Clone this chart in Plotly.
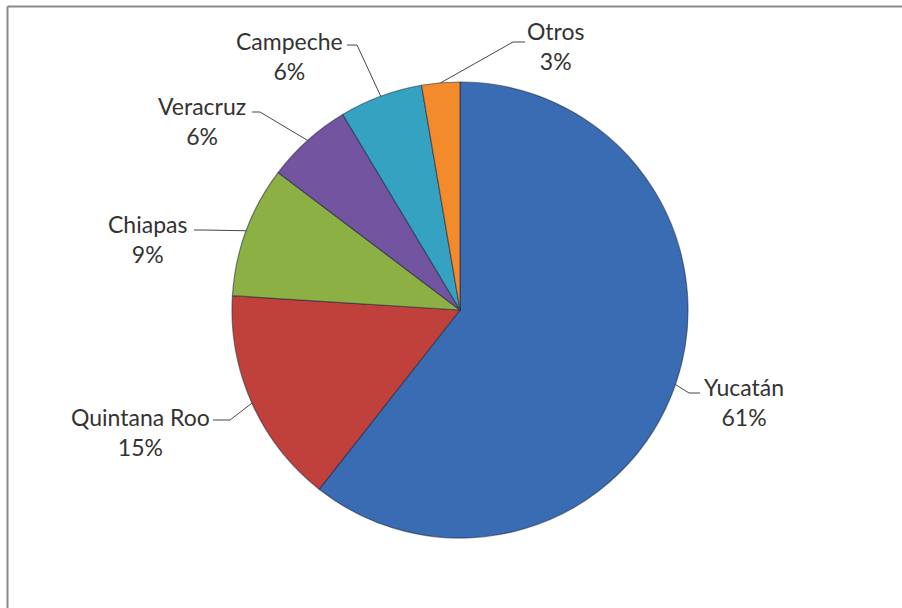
import math
import plotly.graph_objects as go

# ---- data ----
states = ["Yucatán", "Quintana Roo", "Chiapas", "Veracruz", "Campeche", "Otros"]
shares = [60.6, 15.4, 9.3, 6.1, 5.9, 2.7]

# ---- style ----
colors = ["#3a6cb4", "#c0403b", "#8db044", "#7254a0", "#35a2c2", "#f38a2b"]
W, H = 902, 608
CX, CY, R = 460, 310, 228          # pie centre / radius in pixels
FONT = "Lato"
TEXT_COLOR = "#333333"
LINE_COLOR = "#474747"
# label block centre, leader elbow, leader end (pixels) per state
label_pos = {
    "Yucatán":      dict(txt=(744, 402), elbow=(689, 393), end=(700, 393)),
    "Quintana Roo": dict(txt=(140, 432), elbow=(230, 420), end=(213, 420)),
    "Chiapas":      dict(txt=(147, 239), elbow=(202, 230), end=(194, 230)),
    "Veracruz":     dict(txt=(202, 121), elbow=(260, 112), end=(252, 112)),
    "Campeche":     dict(txt=(289, 56),  elbow=(357, 45),  end=(347, 45)),
    "Otros":        dict(txt=(556, 46),  elbow=(513, 42),  end=(525, 42)),
}


def px(x):
    return x / W


def py(y):
    return 1 - y / H


fig = go.Figure()
fig.add_trace(go.Pie(
    labels=states,
    values=shares,
    marker=dict(colors=colors, line=dict(color="rgba(30,38,60,0.55)", width=1.2)),
    sort=False,
    direction="clockwise",
    rotation=0,
    textinfo="none",
    hoverinfo="label+percent",
    showlegend=False,
    domain=dict(x=[px(CX - R), px(CX + R)], y=[py(CY + R), py(CY - R)]),
))

total = sum(shares)
cum = 0.0
shapes = []
annotations = []
for name, v in zip(states, shares):
    mid = (cum + v / 2) / total * 2 * math.pi
    cum += v
    rx = CX + R * math.sin(mid)
    ry = CY - R * math.cos(mid)
    lp = label_pos[name]
    ex, ey = lp["elbow"]
    tx, ty = lp["end"]
    shapes.append(dict(
        type="path", xref="paper", yref="paper",
        path=f"M {px(rx)},{py(ry)} L {px(ex)},{py(ey)} L {px(tx)},{py(ty)}",
        line=dict(color=LINE_COLOR, width=1),
    ))
    pct = round(v / total * 100)
    annotations.append(dict(
        x=px(lp["txt"][0]), y=py(lp["txt"][1]), xref="paper", yref="paper",
        text=f"{name}<br>{pct}%", showarrow=False,
        xanchor="center", yanchor="middle", align="center",
        font=dict(family=FONT, size=23, color=TEXT_COLOR),
    ))

# chart border (top and left visible)
shapes.append(dict(type="line", xref="paper", yref="paper",
                   x0=px(7.5), y0=py(6.5), x1=1.0, y1=py(6.5),
                   line=dict(color="#8a8a8a", width=2)))
shapes.append(dict(type="line", xref="paper", yref="paper",
                   x0=px(7.5), y0=py(6.5), x1=px(7.5), y1=0.0,
                   line=dict(color="#8a8a8a", width=2)))

fig.update_layout(
    width=W, height=H,
    margin=dict(l=0, r=0, t=0, b=0),
    paper_bgcolor="white",
    plot_bgcolor="white",
    shapes=shapes,
    annotations=annotations,
)

fig.write_html(
    "out.html",
    config={"displayModeBar": False},
    post_script="document.body.style.margin='0';document.body.style.overflow='hidden';",
)
